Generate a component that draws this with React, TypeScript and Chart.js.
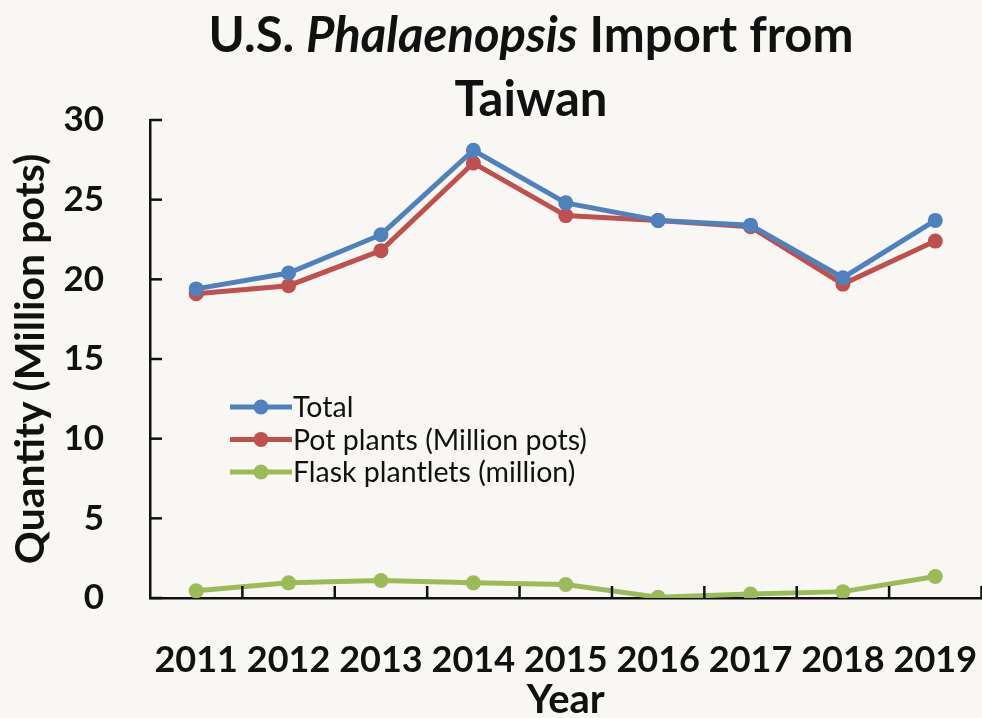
import React, { useEffect, useRef } from "react";
import { Chart, registerables } from "chart.js";

Chart.register(...registerables);

const years = ["2011", "2012", "2013", "2014", "2015", "2016", "2017", "2018", "2019"];
const totalValues = [19.4, 20.4, 22.8, 28.1, 24.8, 23.7, 23.4, 20.1, 23.7];
const potPlantValues = [19.1, 19.6, 21.8, 27.3, 24.0, 23.7, 23.3, 19.7, 22.4];
const flaskValues = [0.45, 0.95, 1.1, 0.95, 0.85, 0.05, 0.25, 0.4, 1.35];
const yTicks = [0, 5, 10, 15, 20, 25, 30];

const FONT = "Lato, 'Open Sans', sans-serif";

const titlePlugin = {
  id: "richTitle",
  afterDraw(chart: any) {
    const ctx = chart.ctx;
    ctx.save();
    ctx.fillStyle = "#111";
    ctx.textBaseline = "middle";
    const size = 49;
    const parts: [string, string][] = [
      ["U.S. ", `bold ${size}px ${FONT}`],
      ["Phalaenopsis", `italic bold ${size}px ${FONT}`],
      [" Import from", `bold ${size}px ${FONT}`],
    ];
    let total = 0;
    for (const [t, f] of parts) {
      ctx.font = f;
      total += ctx.measureText(t).width;
    }
    const cx = 531;
    let x = cx - total / 2;
    ctx.textAlign = "left";
    for (const [t, f] of parts) {
      ctx.font = f;
      ctx.fillText(t, x, 36);
      x += ctx.measureText(t).width;
    }
    ctx.font = `bold ${size}px ${FONT}`;
    ctx.textAlign = "center";
    ctx.fillText("Taiwan", cx, 100);
    ctx.restore();
  },
};

const ticksPlugin = {
  id: "innerTicks",
  afterDraw(chart: any) {
    const ctx = chart.ctx;
    const y = chart.scales.y;
    const x = chart.scales.x;
    const area = chart.chartArea;
    ctx.save();
    ctx.strokeStyle = "#111";
    ctx.lineWidth = 2.5;
    y.ticks.forEach((_t: any, i: number) => {
      const py = y.getPixelForTick(i);
      ctx.beginPath();
      ctx.moveTo(area.left, py);
      ctx.lineTo(area.left + 12, py);
      ctx.stroke();
    });
    const half = (x.getPixelForValue(1) - x.getPixelForValue(0)) / 2;
    for (let i = 0; i < years.length; i++) {
      const px = x.getPixelForValue(i) + half;
      ctx.beginPath();
      ctx.moveTo(px, area.bottom);
      ctx.lineTo(px, area.bottom - 12);
      ctx.stroke();
    }
    ctx.restore();
  },
};

const legendPlugin = {
  id: "innerLegend",
  afterDraw(chart: any) {
    const ctx = chart.ctx;
    ctx.save();
    const x0 = 230;
    let y0 = 407;
    ctx.font = `28.5px ${FONT}`;
    ctx.textBaseline = "middle";
    ctx.textAlign = "left";
    chart.data.datasets.forEach((ds: any) => {
      ctx.strokeStyle = ds.borderColor;
      ctx.lineWidth = 5;
      ctx.beginPath();
      ctx.moveTo(x0, y0);
      ctx.lineTo(x0 + 62, y0);
      ctx.stroke();
      ctx.fillStyle = ds.borderColor;
      ctx.beginPath();
      ctx.arc(x0 + 31, y0, 7.5, 0, Math.PI * 2);
      ctx.fill();
      ctx.fillStyle = "#111";
      ctx.fillText(ds.label, x0 + 63, y0 + 1);
      y0 += 32.5;
    });
    ctx.restore();
  },
};

export default function App() {
  const ref = useRef<HTMLCanvasElement | null>(null);
  useEffect(() => {
    if (!ref.current) return;
    const mk = (label: string, data: number[], color: string) => ({
      label,
      data,
      borderColor: color,
      backgroundColor: color,
      borderWidth: 5,
      pointRadius: 7.5,
      pointHoverRadius: 7.5,
      pointBorderWidth: 0,
      tension: 0,
    });
    const chart = new Chart(ref.current, {
      type: "line",
      data: {
        labels: years,
        datasets: [
          mk("Total", totalValues, "#4F81BD"),
          mk("Pot plants (Million pots)", potPlantValues, "#C0504D"),
          mk("Flask plantlets (million)", flaskValues, "#9BBB59"),
        ],
      },
      options: {
        animation: false,
        responsive: false,
        events: [],
        layout: { padding: { top: 120, right: 0, left: 0, bottom: 0 } },
        plugins: {
          legend: { display: false },
          title: { display: false },
          tooltip: { enabled: false },
        },
        scales: {
          x: {
            offset: true,
            grid: { display: false },
            border: { display: true, color: "#111", width: 2.5 },
            ticks: {
              color: "#111",
              font: { family: FONT, size: 36, weight: "bold" },
              padding: 33,
              maxRotation: 0,
              autoSkip: false,
            },
            title: {
              display: true,
              text: "Year",
              color: "#111",
              font: { family: FONT, size: 40, weight: "bold", lineHeight: 1.0 },
              padding: { top: 0, bottom: -2 },
            },
            afterFit(scale: any) {
              scale.height = 120;
              scale.paddingLeft = 0;
              scale.paddingRight = 0;
            },
          },
          y: {
            min: 0,
            max: 30,
            afterBuildTicks(scale: any) {
              scale.ticks = yTicks.map((v) => ({ value: v }));
            },
            grid: { display: false },
            border: { display: true, color: "#111", width: 2.5 },
            ticks: {
              color: "#111",
              font: { family: FONT, size: 35, weight: "bold" },
              padding: 38,
            },
            title: {
              display: true,
              text: "Quantity (Million pots)",
              color: "#111",
              font: { family: FONT, size: 41, weight: "bold" },
              padding: { top: 6, bottom: 0 },
            },
            afterFit(scale: any) {
              scale.width = 150;
            },
          },
        },
      },
      plugins: [titlePlugin, ticksPlugin, legendPlugin],
    } as any);
    return () => chart.destroy();
  }, []);
  return (
    <div style={{ position: "absolute", left: 0, top: 0, width: 982, height: 718, overflow: "hidden", background: "#f8f7f4" }}>
      <canvas ref={ref} width={989} height={718} style={{ display: "block" }} />
    </div>
  );
}
